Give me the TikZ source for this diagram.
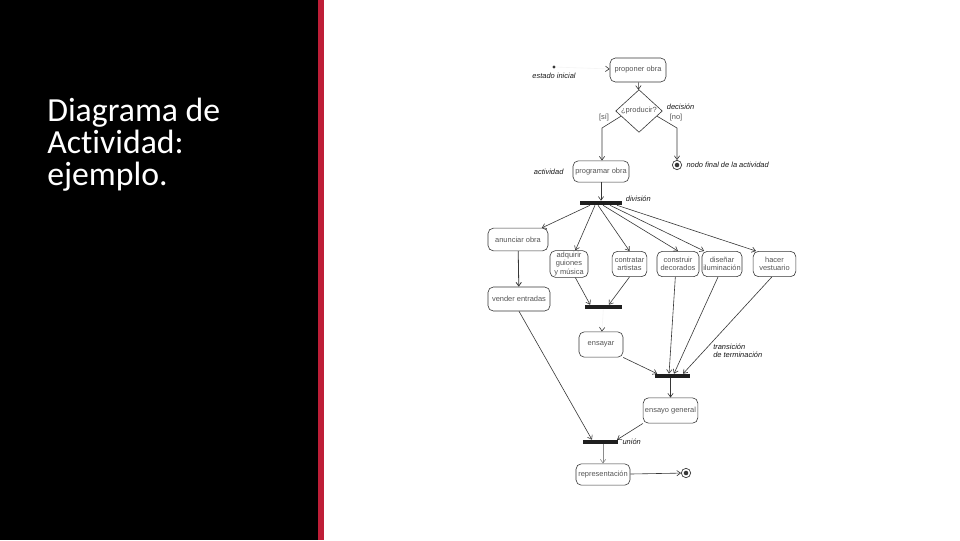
\documentclass[tikz,border=0pt]{standalone}
\usepackage{fontspec}
\setmainfont{Liberation Sans}
\newfontfamily\titulo[Ligatures=NoCommon]{Carlito}
\usetikzlibrary{arrows.meta,positioning,shapes.geometric}
\definecolor{rojoborde}{RGB}{190,30,55}
\definecolor{linea}{RGB}{55,55,55}
\definecolor{textogris}{RGB}{85,85,85}

\begin{document}
\begin{tikzpicture}[x=0.75pt,y=-0.75pt,
  act/.style={draw=linea,line width=0.45pt,rounded corners=4pt,fill=white,text=textogris,
              align=center,font=\fontsize{5.6}{6.4}\selectfont,inner sep=1pt},
  decis/.style={diamond,draw=linea,line width=0.45pt,fill=white,text=textogris,
              font=\fontsize{5.6}{6.4}\selectfont,minimum width=35pt,minimum height=28.5pt,inner sep=0},
  barra/.style={fill=black!88,inner sep=0,minimum height=3pt},
  etiq/.style={font=\fontsize{5.6}{6.4}\selectfont\itshape,text=black!90,inner sep=0,align=left},
  guarda/.style={font=\fontsize{5.6}{6.4}\selectfont,text=textogris,inner sep=0},
  ar/.style={-{Straight Barb[length=2.8pt,width=4pt]},draw=linea,line width=0.45pt},
  tenue/.style={ar,draw=black!4,-{Straight Barb[length=2.8pt,width=4pt,color=linea]}},
  fin/.style={circle,draw=linea,line width=0.5pt,fill=white,minimum size=7pt,inner sep=0,
              path picture={\fill[linea] (path picture bounding box.center) circle (1.7pt);}}
]
\fill[white] (0,0) rectangle (960,540);
\fill[black] (0,0) rectangle (318,540);
\fill[rojoborde] (318,0) rectangle (324,540);
\useasboundingbox (0,0) rectangle (960,540);

\node[anchor=north west,text=white,font=\titulo\fontsize{25.3}{24}\selectfont,align=left,inner sep=0]
  (titulo) at (47,98.3) {Diagrama de\\Actividad:\\ejemplo.};

\node[circle,fill=linea,inner sep=0,minimum size=2.5pt] (inicio) at (554,67) {};
\node[etiq,below=3pt of inicio] (lblinicio) {estado inicial};
\node[act,minimum width=42pt,minimum height=18pt] (proponer) at (638,70) {proponer obra};
\node[decis] (decision) at (639,111) {¿producir?};
\node[act,minimum width=42pt,minimum height=16pt] (programar) at (601,171.5) {programar obra};
\node[fin] (fin1) at (677,165) {};
\node[barra,minimum width=31.5pt] (division) at (601,203) {};
\node[act,minimum width=45pt,minimum height=17pt] (anunciar) at (518,239.5) {anunciar obra};
\node[act,minimum width=46.5pt,minimum height=18pt] (vender) at (519,299) {vender entradas};
\node[act,minimum width=28.5pt,minimum height=19.5pt] (adquirir) at (569,264) {adquirir\\guiones\\y música};
\node[act,minimum width=26pt,minimum height=19pt] (contratar) at (629.5,264) {contratar\\artistas};
\node[act,minimum width=31.5pt,minimum height=19pt] (construir) at (678,264) {construir\\decorados};
\node[act,minimum width=30pt,minimum height=19pt] (disenar) at (722,264) {diseñar\\iluminación};
\node[act,minimum width=32pt,minimum height=19pt] (hacer) at (774.5,264) {hacer\\vestuario};
\node[barra,minimum width=27.75pt] (join1) at (603.5,307) {};
\node[act,minimum width=33pt,minimum height=19pt] (ensayar) at (601,344.5) {ensayar};
\node[barra,minimum width=26.25pt] (join2) at (672.5,376) {};
\node[act,minimum width=41pt,minimum height=19pt] (general) at (670.5,410.5) {ensayo general};
\node[barra,minimum width=26.25pt] (union) at (600.5,442) {};
\node[act,minimum width=40.5pt,minimum height=16pt] (representacion) at (603,474.5) {representación};
\node[fin] (fin2) at (686,473) {};

\node[etiq,left=6.75pt of programar] (lblactividad) {actividad};
\node[etiq,right=3pt of decision.east,yshift=3pt] (lbldecision) {decisión};
\node[guarda] (lblsi) at (604,118) {[sí]};
\node[guarda] (lblno) at (676,118) {[no]};
\node[etiq,right=3.2pt of fin1] (lblfin) {nodo final de la actividad};
\node[etiq,above right=1pt and 2.5pt of division.east] (lbldivision) {división};
\node[etiq,anchor=west] (lbltransicion) at (713,351) {transición\\de terminación};
\node[etiq,right=3pt of union.east] (lblunion) {unión};

\coordinate (codosi) at (602,128);
\coordinate (codono) at (677,128);

\draw[tenue] (inicio) -- (proponer);
\draw[ar] (proponer) -- (decision);
\draw[ar] (decision.196) -- (codosi) -- (programar.north -| codosi);
\draw[ar] (decision.-16) -- (codono) -- (fin1);
\draw[ar] (programar) -- (division);
\draw[ar] ([xshift=-8.25pt]division.south) -- (anunciar.26);
\draw[ar] ([xshift=-4.5pt]division.south) -- (adquirir.65);
\draw[ar] ([xshift=-2.25pt]division.south) -- (contratar.north);
\draw[ar] ([xshift=1.5pt]division.south) -- (construir.north);
\draw[ar] ([xshift=6.75pt]division.south) -- (disenar.144);
\draw[ar] ([xshift=12pt]division.south) -- (hacer.145);
\draw[ar,line width=0.6pt] (anunciar) -- (vender);
\draw[ar] (adquirir.-65) -- ([xshift=-10pt]join1.north);
\draw[ar] (contratar.south) -- ([xshift=4pt]join1.north);
\draw[tenue] (join1) -- (ensayar);
\draw[ar] (ensayar.south east) -- ([xshift=-11.5pt]join2.north);
\draw[ar] ([xshift=-2pt]construir.south) -- ([xshift=-2.6pt]join2.north);
\draw[ar] ([xshift=-3pt]disenar.south) -- ([xshift=1.1pt]join2.north);
\draw[ar] ([xshift=-2pt]hacer.south) -- ([xshift=7.9pt]join2.north);
\draw[ar] (join2.south -| general) -- (general);
\draw[ar] (vender.south) -- ([xshift=-6.4pt]union.north);
\draw[ar] (general.south west) -- ([xshift=12.4pt]union.north);
\draw[ar,draw=black!45] (union.south -| representacion) -- (representacion);
\draw[ar] (representacion) -- (fin2);
\end{tikzpicture}
\end{document}
